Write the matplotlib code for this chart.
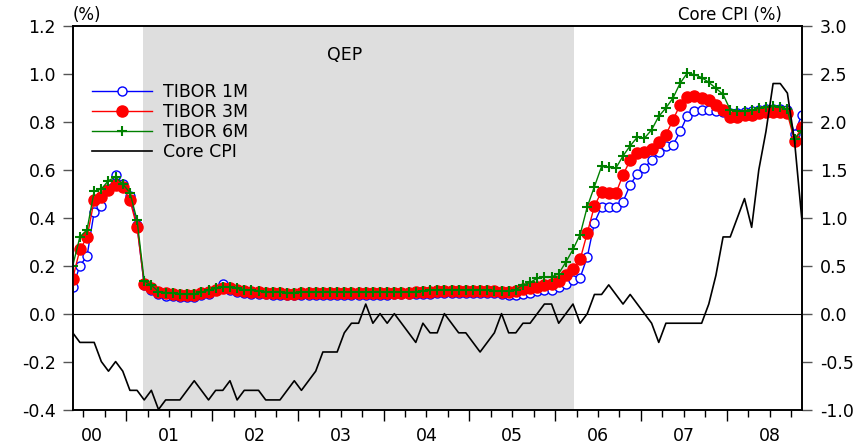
import numpy as np
import matplotlib.pyplot as plt
import matplotlib.transforms as mtransforms

plt.rcParams['font.family'] = ['DejaVu Sans']

# monthly data, May 2000 .. Nov 2008 (103 months)
tibor_1m = [
    0.11, 0.20, 0.24, 0.425, 0.45, 0.52, 0.58, 0.54, 0.49, 0.37,
    0.118, 0.10, 0.08, 0.075, 0.073, 0.07, 0.068, 0.07, 0.077, 0.084,
    0.10, 0.125, 0.097, 0.092, 0.087, 0.084, 0.082, 0.08, 0.077, 0.077,
    0.076, 0.076, 0.077, 0.077, 0.078, 0.078, 0.077, 0.077, 0.077, 0.078,
    0.079, 0.079, 0.079, 0.079, 0.079, 0.08, 0.08, 0.08, 0.081, 0.082,
    0.084, 0.086, 0.087, 0.087, 0.087, 0.086, 0.086, 0.086, 0.086, 0.085,
    0.08, 0.078, 0.079, 0.082, 0.088, 0.093, 0.097, 0.10, 0.11, 0.125,
    0.142, 0.15, 0.237, 0.379, 0.446, 0.446, 0.446, 0.467, 0.537, 0.583,
    0.607, 0.642, 0.676, 0.70, 0.704, 0.76, 0.826, 0.844, 0.85, 0.85,
    0.845, 0.84, 0.835, 0.835, 0.84, 0.845, 0.85, 0.855, 0.855, 0.855,
    0.85, 0.75, 0.83,
]
tibor_3m = [
    0.146, 0.268, 0.318, 0.474, 0.488, 0.516, 0.537, 0.53, 0.474, 0.36,
    0.125, 0.108, 0.09, 0.085, 0.082, 0.078, 0.076, 0.078, 0.085, 0.092,
    0.10, 0.108, 0.105, 0.10, 0.095, 0.092, 0.09, 0.088, 0.085, 0.085,
    0.084, 0.084, 0.085, 0.085, 0.086, 0.086, 0.085, 0.085, 0.085, 0.086,
    0.087, 0.087, 0.087, 0.087, 0.087, 0.088, 0.088, 0.088, 0.089, 0.09,
    0.092, 0.094, 0.095, 0.095, 0.095, 0.094, 0.094, 0.094, 0.094, 0.093,
    0.092, 0.092, 0.096, 0.103, 0.108, 0.112, 0.118, 0.124, 0.138, 0.162,
    0.188, 0.226, 0.337, 0.449, 0.509, 0.505, 0.502, 0.579, 0.64, 0.67,
    0.676, 0.686, 0.718, 0.746, 0.809, 0.872, 0.905, 0.907, 0.90, 0.89,
    0.87, 0.85, 0.82, 0.82, 0.828, 0.83, 0.835, 0.84, 0.842, 0.84,
    0.835, 0.72, 0.78,
]
tibor_6m = [
    0.20, 0.32, 0.35, 0.51, 0.52, 0.555, 0.57, 0.54, 0.505, 0.39,
    0.137, 0.118, 0.092, 0.088, 0.085, 0.082, 0.08, 0.082, 0.09, 0.097,
    0.105, 0.112, 0.11, 0.105, 0.10, 0.097, 0.095, 0.092, 0.09, 0.09,
    0.088, 0.088, 0.089, 0.089, 0.09, 0.09, 0.089, 0.089, 0.089, 0.09,
    0.09, 0.09, 0.09, 0.09, 0.09, 0.091, 0.091, 0.091, 0.092, 0.094,
    0.098, 0.10, 0.10, 0.10, 0.10, 0.10, 0.10, 0.10, 0.098, 0.096,
    0.095, 0.095, 0.10, 0.12, 0.13, 0.148, 0.152, 0.153, 0.167, 0.215,
    0.268, 0.33, 0.446, 0.53, 0.614, 0.61, 0.607, 0.658, 0.70, 0.736,
    0.732, 0.767, 0.823, 0.858, 0.90, 0.962, 1.004, 0.997, 0.985, 0.965,
    0.94, 0.915, 0.85, 0.845, 0.845, 0.85, 0.857, 0.86, 0.865, 0.862,
    0.852, 0.73, 0.76,
]
core_cpi = [
    -0.2, -0.3, -0.3, -0.3, -0.5, -0.6, -0.5, -0.6, -0.8, -0.8,
    -0.9, -0.8, -1.0, -0.9, -0.9, -0.9, -0.8, -0.7, -0.8, -0.9,
    -0.8, -0.8, -0.7, -0.9, -0.8, -0.8, -0.8, -0.9, -0.9, -0.9,
    -0.8, -0.7, -0.8, -0.7, -0.6, -0.4, -0.4, -0.4, -0.2, -0.1,
    -0.1, 0.1, -0.1, 0.0, -0.1, 0.0, -0.1, -0.2, -0.3, -0.1,
    -0.2, -0.2, 0.0, -0.1, -0.2, -0.2, -0.3, -0.4, -0.3, -0.2,
    0.0, -0.2, -0.2, -0.1, -0.1, 0.0, 0.1, 0.1, -0.1, 0.0,
    0.1, -0.1, 0.0, 0.2, 0.2, 0.3, 0.2, 0.1, 0.2, 0.1,
    0.0, -0.1, -0.3, -0.1, -0.1, -0.1, -0.1, -0.1, -0.1, 0.1,
    0.4, 0.8, 0.8, 1.0, 1.2, 0.9, 1.5, 1.9, 2.4, 2.4,
    2.3, 1.8, 1.0,
]

year_labels = ['00', '01', '02', '03', '04', '05', '06', '07', '08']
year_label_pos = [2000.6, 2001.5, 2002.5, 2003.5, 2004.5, 2005.5, 2006.5, 2007.5, 2008.5]
qep_period = (2001.2, 2006.22)

# mid-month time axis starting May 2000
t = 2000 + (4 + np.arange(len(core_cpi)) + 0.5) / 12

fig = plt.figure(figsize=(8.68, 4.46), dpi=100)
ax = fig.add_axes([0.0838, 0.0818, 0.8398, 0.8599])
ax2 = ax.twinx()

ax.axvspan(*qep_period, color='#dedede', lw=0, zorder=0)
ax.axhline(0, color='black', lw=0.8, zorder=1)

l1, = ax.plot(t, tibor_1m, color='blue', lw=1.0, marker='o', ms=6.5,
              mfc='white', mec='blue', mew=1.0, label='TIBOR 1M', zorder=2)
l3, = ax.plot(t, tibor_3m, color='red', lw=1.0, marker='o', ms=8,
              mfc='red', mec='red', label='TIBOR 3M', zorder=3)
l6, = ax.plot(t, tibor_6m, color='green', lw=1.0, marker='+', ms=7,
              mew=1.5, label='TIBOR 6M', zorder=4)
lc, = ax2.plot(t, core_cpi, color='black', lw=1.2, label='Core CPI')

ax.set_xlim(t[0], t[-1])
ax.set_ylim(-0.4, 1.2)
ax2.set_ylim(-1.0, 3.0)

ax.set_yticks(np.arange(-0.4, 1.21, 0.2))
ax.set_yticklabels([f'{v:.1f}' for v in np.arange(-0.4, 1.21, 0.2)])
ax2.set_yticks(np.arange(-1.0, 3.01, 0.5))
ax2.set_yticklabels([f'{v:.1f}' for v in np.arange(-1.0, 3.01, 0.5)])

years = np.arange(2001, 2009)
quarters = np.arange(2000.5, 2008.8, 0.25)
ax.set_xticks(years)
ax.set_xticklabels([])
ax.set_xticks(quarters, minor=True)
ax.tick_params(axis='x', which='major', direction='out', length=8, width=1)
ax.tick_params(axis='x', which='minor', direction='out', length=5, width=1)
ax.tick_params(axis='y', direction='out', length=7, width=1, color='#555555',
               labelsize=12.5, pad=5)
ax2.tick_params(axis='y', direction='out', length=7, width=1, color='#555555',
                labelsize=12.5, pad=6)

trans = mtransforms.blended_transform_factory(ax.transData, ax.transAxes)
for pos, lab in zip(year_label_pos, year_labels):
    ax.text(pos, -0.045, lab, transform=trans, ha='center', va='top', fontsize=12.5)

for a in (ax, ax2):
    for s in a.spines.values():
        s.set_linewidth(1.2)

ax.text(0.0, 1.005, '(%)', transform=ax.transAxes, ha='left', va='bottom', fontsize=12)
ax.text(0.973, 1.005, 'Core CPI (%)', transform=ax.transAxes, ha='right',
        va='bottom', fontsize=12)
ax.text(2003.55, 1.08, 'QEP', ha='center', va='center', fontsize=12.5)

ax2.legend(handles=[l1, l3, l6, lc], loc='upper left', bbox_to_anchor=(0.026, 0.852),
           frameon=False, fontsize=12.5, numpoints=1, handlelength=3.5,
           handletextpad=0.6, labelspacing=0.12, borderpad=0, borderaxespad=0)

fig.savefig('out.png', dpi=100)
